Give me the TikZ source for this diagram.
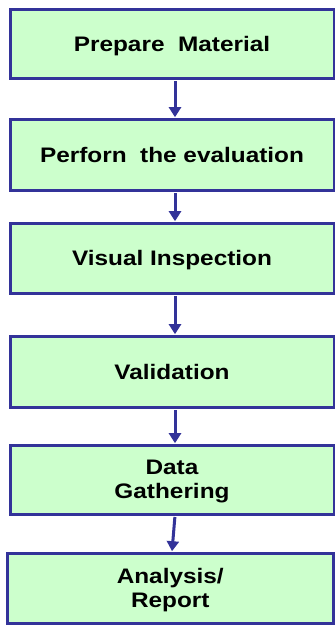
\documentclass[tikz,border=0pt]{standalone}
\usepackage{fontspec}
\usetikzlibrary{arrows.meta}
\newfontfamily\boxfont{Liberation Sans}[FakeStretch=1.16]
\definecolor{stepfill}{HTML}{CCFFCC}
\definecolor{stepline}{HTML}{333399}
\tikzset{
  stepbox/.style={draw=stepline, line width=3pt, fill=stepfill,
    rectangle, inner sep=0pt, align=center, text depth=0pt,
    font=\boxfont\bfseries\fontsize{21}{24.5}\selectfont},
  flow/.style={draw=stepline, line width=3pt,
    -{Triangle[width=12pt,length=10pt]}, shorten <=1.5pt, shorten >=0.3pt}
}
\begin{document}
\begin{tikzpicture}[x=1pt,y=-1pt]
  \useasboundingbox (0,0) rectangle (335,625);
  \node[stepbox, minimum width=324pt, minimum height=69pt] (b1) at (172,43.5) {Prepare\ \ Material};
  \node[stepbox, minimum width=324pt, minimum height=71pt] (b2) at (172,154.5) {Perforn\ \ the evaluation};
  \node[stepbox, minimum width=324pt, minimum height=70pt] (b3) at (172,258) {Visual Inspection};
  \node[stepbox, minimum width=324pt, minimum height=71pt] (b4) at (172,371.5) {Validation};
  \node[stepbox, minimum width=324pt, minimum height=69pt] (b5) at (172,479.5) {Data\\Gathering};
  \node[stepbox, minimum width=325.5pt, minimum height=70pt] (b6) at (170.25,588) {Analysis/\\Report};
  \draw[flow] ([xshift=3pt]b1.south) -- ([xshift=3pt]b2.north);
  \draw[flow] ([xshift=3pt]b2.south) -- ([xshift=3pt]b3.north);
  \draw[flow] ([xshift=3pt]b3.south) -- ([xshift=3pt]b4.north);
  \draw[flow] ([xshift=3pt]b4.south) -- ([xshift=3pt]b5.north);
  \draw[flow] ([xshift=3pt]b5.south) -- ([xshift=1.75pt]b6.north);
\end{tikzpicture}
\end{document}
